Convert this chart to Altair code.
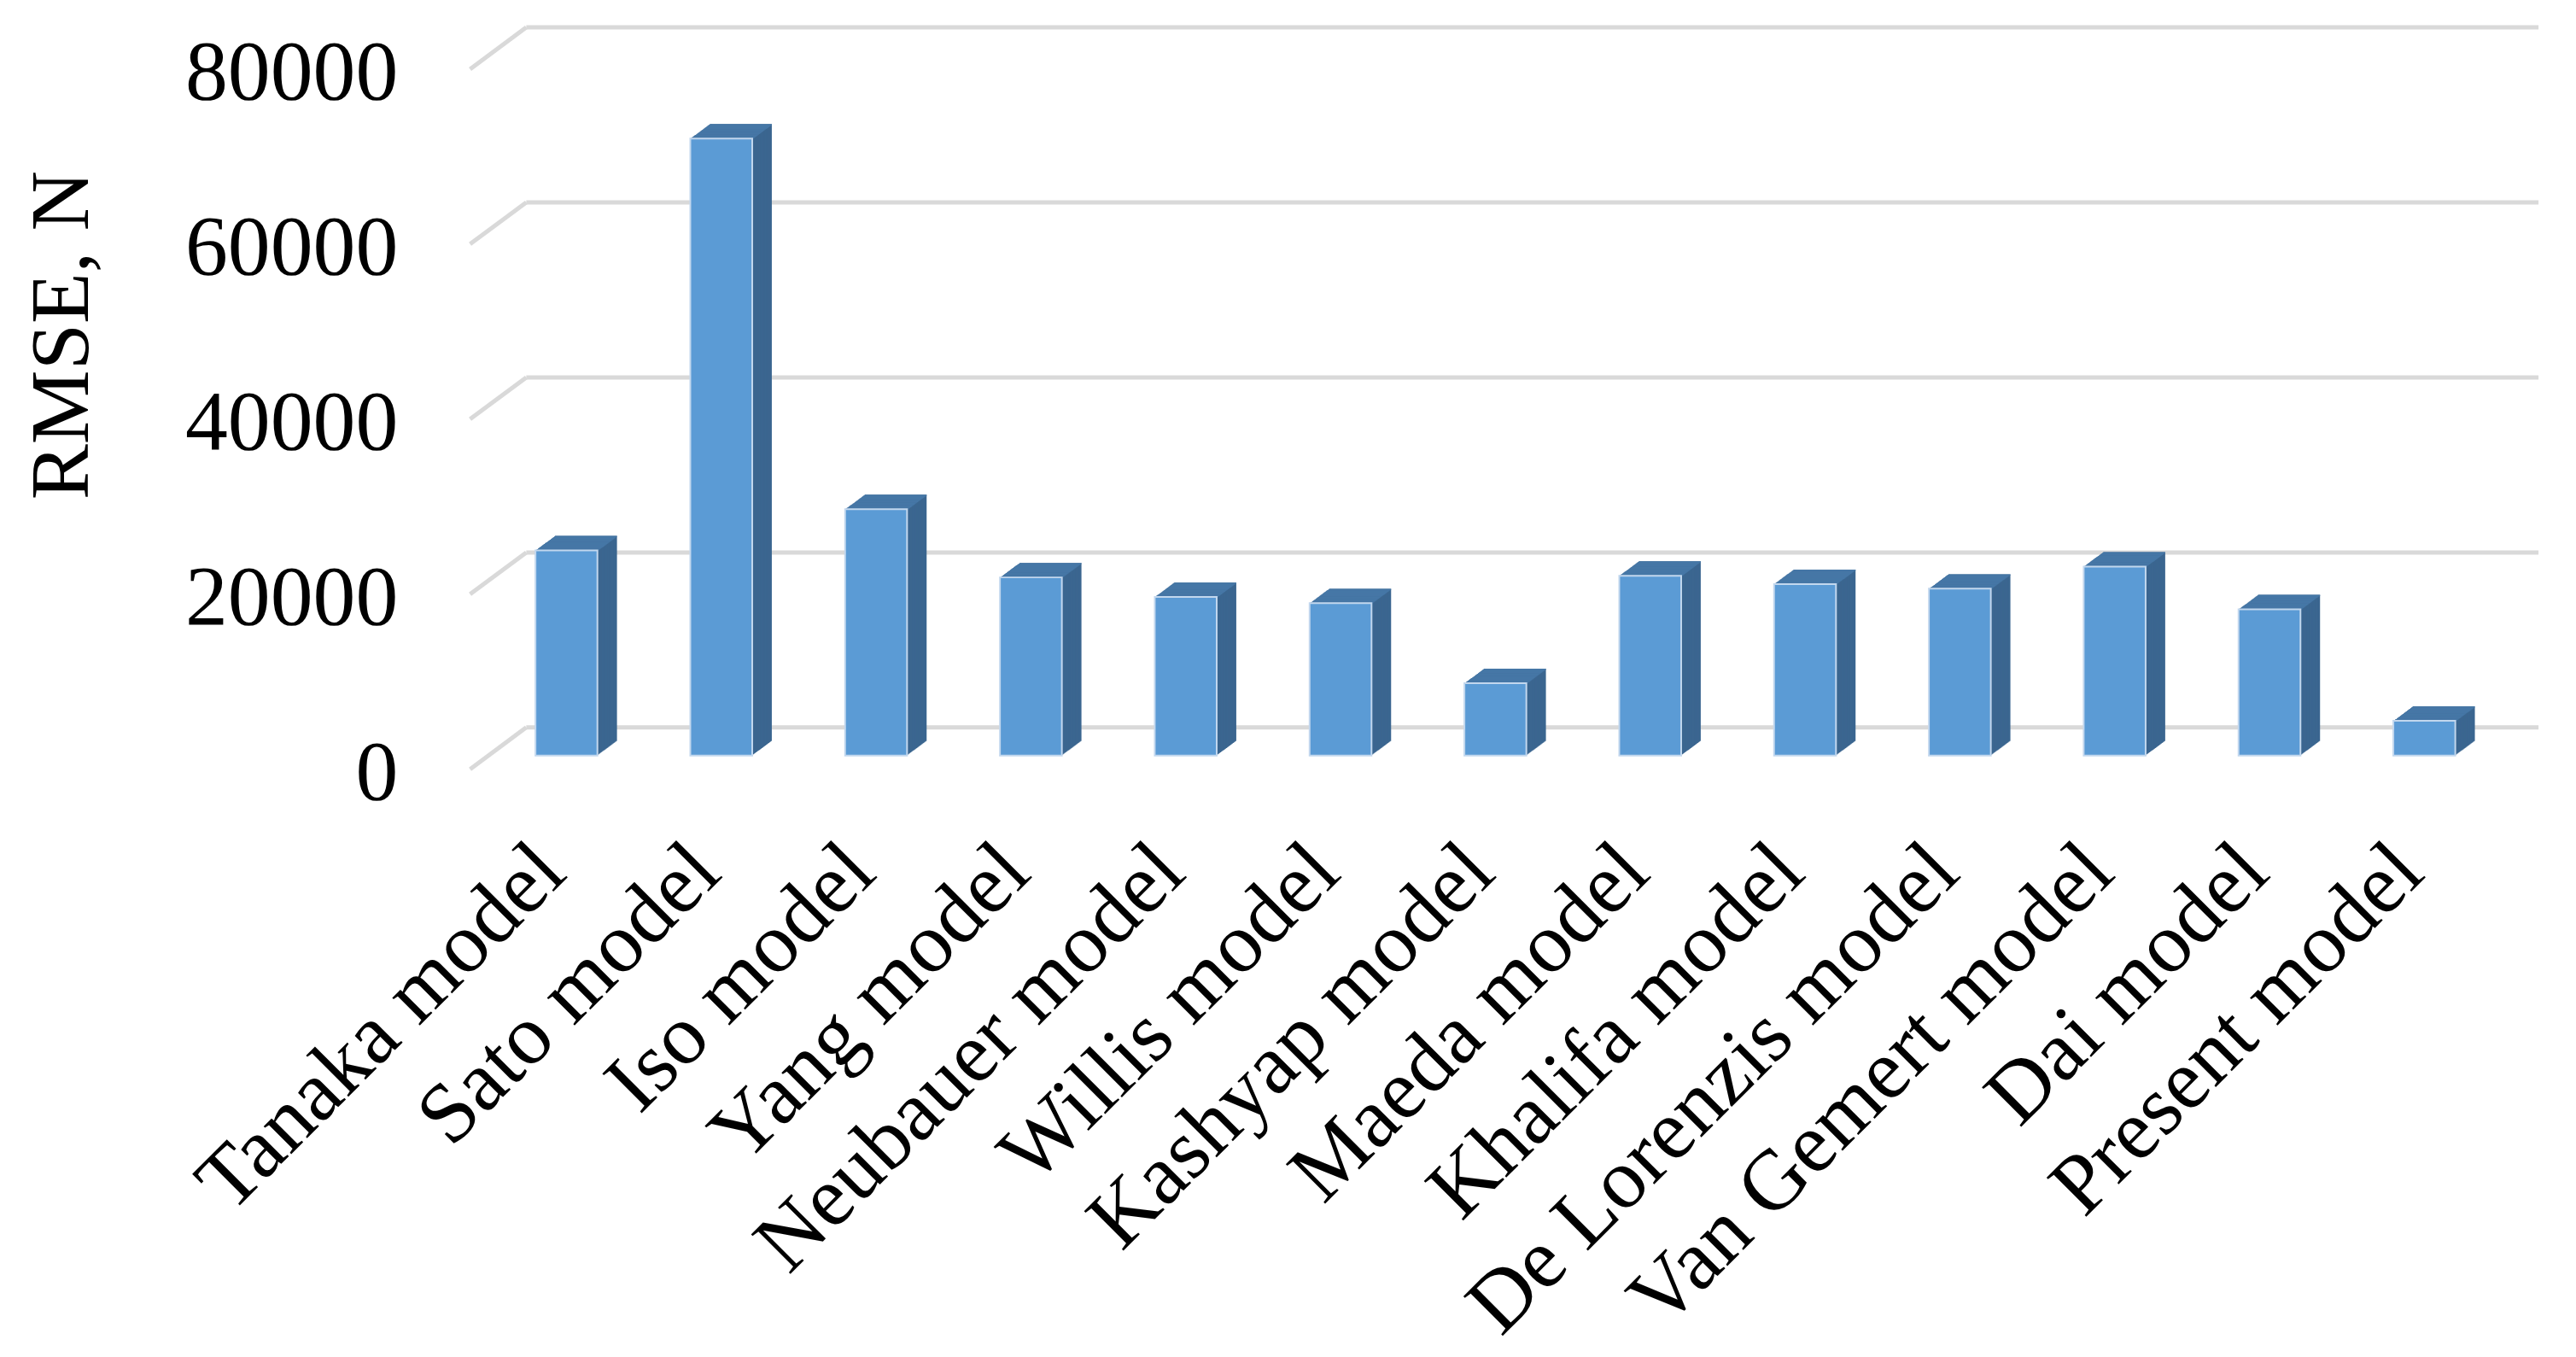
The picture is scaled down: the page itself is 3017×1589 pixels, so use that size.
import altair as alt
import pandas as pd

models = ["Tanaka model", "Sato model", "Iso model", "Yang model", "Neubauer model",
          "Willis model", "Kashyap model", "Maeda model", "Khalifa model",
          "De Lorenzis model", "Van Gemert model", "Dai model", "Present model"]
rmse = [23450, 70500, 28150, 20360, 18120, 17410, 8270, 20540, 19600, 19070, 21600, 16710, 3970]
y_ticks = [0, 20000, 40000, 60000, 80000]

PLOT_W = 2429
PLOT_H = 822
DEPTH_X = 23      # pixel depth of the fake 3d columns
DEPTH_Y = 17
BACK_SHIFT = -33  # back wall gridlines sit above the column base
FRONT_SHIFT = 16
BACK_START = 66

FRONT = "#5b9bd5"
SIDE = "#3b6690"
TOP = "#4677a6"
GRID = "#d9d9d9"
FONT = "Liberation Serif"

bars = pd.DataFrame({"model": models, "value": rmse})
grid = pd.DataFrame({"value": y_ticks})

x_scale = alt.Scale(paddingInner=0.6, paddingOuter=0.48, align=0.44)
y_scale = alt.Scale(domain=[0, 80000], nice=False)

x_axis = alt.Axis(title=None, labelAngle=315, labelAlign="right", labelBaseline="alphabetic",
                  labelFont=FONT, labelFontSize=100, labelColor="black", labelPadding=141,
                  labelOffset=3, ticks=False, domain=False, labelOverlap=False, labelLimit=2000)
y_axis = alt.Axis(title="RMSE, N", values=y_ticks, format="d", grid=False, ticks=False,
                  domain=False, labelFont=FONT, labelFontSize=100, labelColor="black",
                  labelPadding=85, labelOffset=21, labelBaseline="middle", labelLimit=2000,
                  titleFont=FONT, titleFontSize=98, titleFontWeight="normal", titleColor="black",
                  titleAngle=270, titleAlign="center", titleBaseline="alphabetic",
                  titleX=-449, titleY=328)

x_enc = alt.X("model:N", sort=models, scale=x_scale, axis=x_axis)
y_enc = alt.Y("value:Q", scale=y_scale, axis=y_axis)

back_grid = alt.Chart(grid).mark_rule(color=GRID, strokeWidth=5, yOffset=BACK_SHIFT).encode(
    y=y_enc, x=alt.value(BACK_START), x2=alt.value(PLOT_W))
front_grid = alt.Chart(grid).mark_rule(color=GRID, strokeWidth=5, yOffset=FRONT_SHIFT,
                                       y2Offset=BACK_SHIFT).encode(
    y=y_enc, y2=alt.Y2("value"), x=alt.value(0), x2=alt.value(BACK_START))

layers = [back_grid, front_grid]

# side face: stack of shifted copies
for i in range(DEPTH_X, 0, -1):
    dy = -i * DEPTH_Y / DEPTH_X
    layers.append(alt.Chart(bars).mark_bar(color=SIDE, xOffset=i, yOffset=dy, y2Offset=dy).encode(
        x=x_enc, y=y_enc, y2=alt.datum(0)))

# top face: thin strips at the top of each copy
for i in range(DEPTH_X, 0, -1):
    dy = -i * DEPTH_Y / DEPTH_X
    layers.append(alt.Chart(bars).mark_bar(color=TOP, xOffset=i, yOffset=dy,
                                           y2Offset=dy + DEPTH_Y / DEPTH_X + 0.6).encode(
        x=x_enc, y=y_enc, y2=alt.Y2("value")))

front = alt.Chart(bars).mark_bar(color=FRONT, stroke="#c2d7ee", strokeWidth=2).encode(
    x=x_enc, y=y_enc)
layers.append(front)

chart = alt.layer(*layers).properties(
    width=PLOT_W, height=PLOT_H,
    autosize=alt.AutoSizeParams(type="none"),
    padding={"left": 544, "top": 55, "right": 36, "bottom": 704},
    background="white",
).configure_view(stroke=None)

chart.save("out.html", embed_options={"renderer": "svg", "actions": False})
